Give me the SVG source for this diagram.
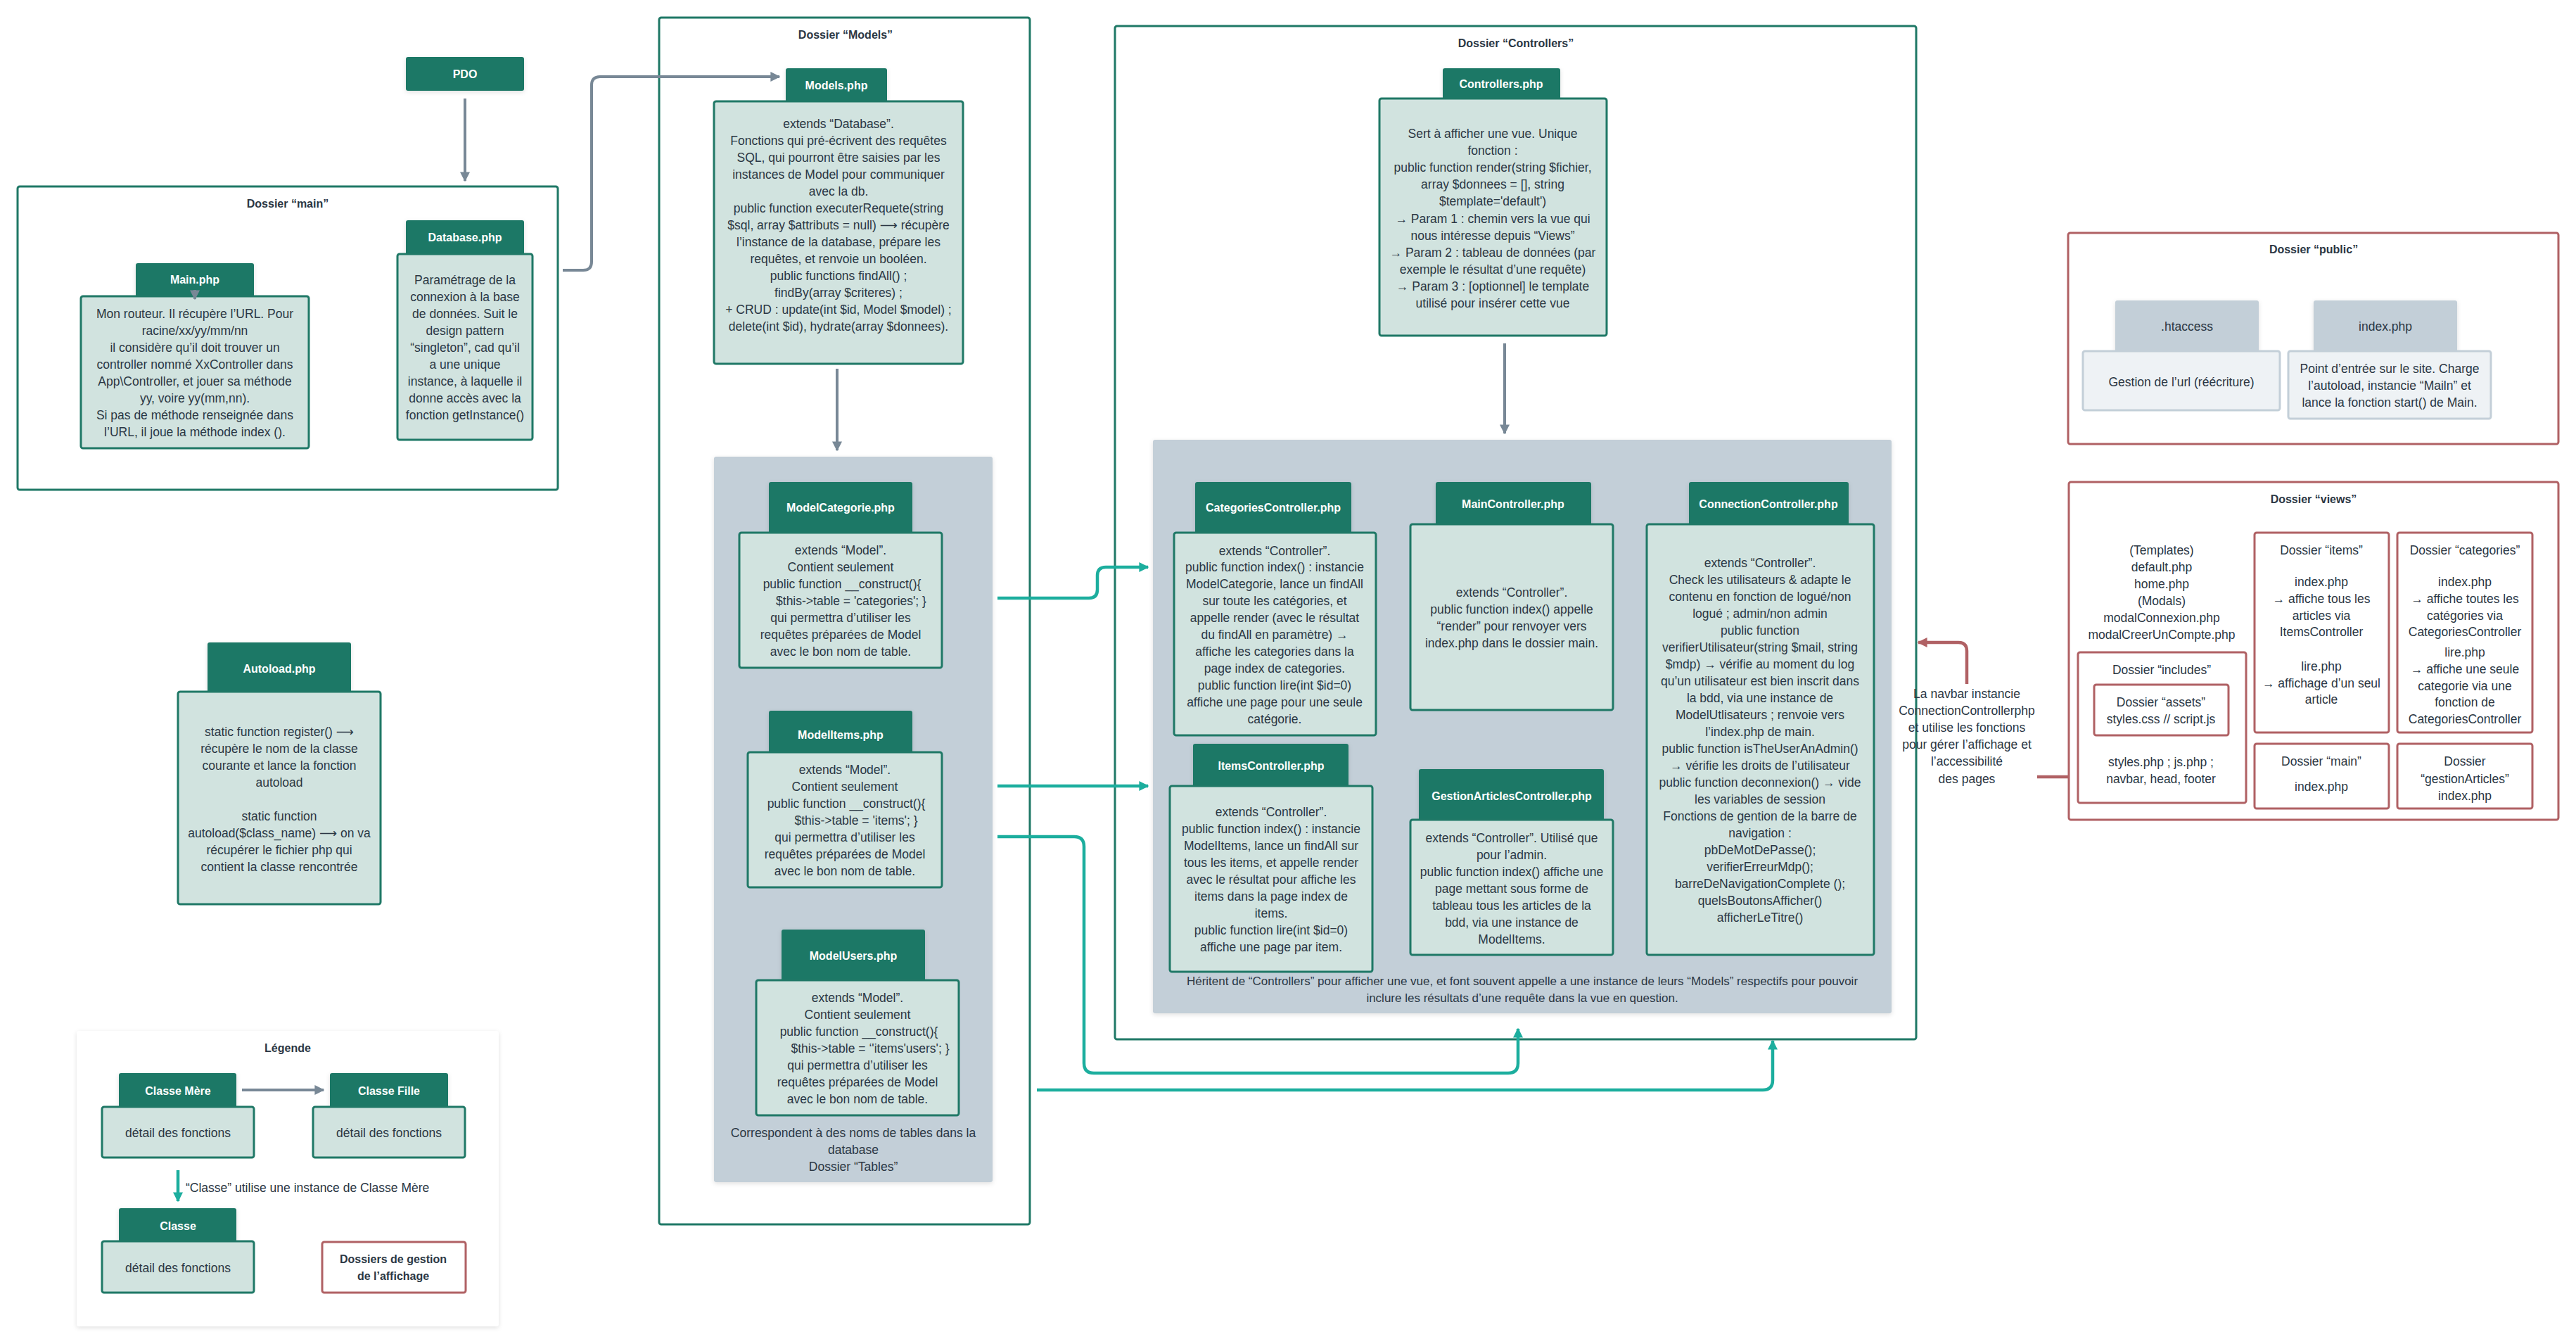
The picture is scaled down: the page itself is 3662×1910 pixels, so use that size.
<svg xmlns="http://www.w3.org/2000/svg" width="3662" height="1910" viewBox="0 0 3662 1910">
<defs>
<style>
.hd{fill:#1f7866}
.bd{fill:#d1e3df;stroke:#1f7866;stroke-width:3}
.ghd{fill:#c3cfd8}
.gbd{fill:#eef2f5;stroke:#c3cfd8;stroke-width:3}
.ht{font-family:"Liberation Sans","DejaVu Sans",sans-serif;font-weight:bold;font-size:16px;fill:#ffffff;text-anchor:middle}
.tx{font-family:"Liberation Sans","DejaVu Sans",sans-serif;font-size:17.5px;fill:#2b3744;text-anchor:middle}
.ti{font-family:"Liberation Sans","DejaVu Sans",sans-serif;font-weight:bold;font-size:16px;fill:#2b3744;text-anchor:middle}
.fold{fill:#ffffff;stroke:#1f7866;stroke-width:3}
.rfold{fill:#ffffff;stroke:#b06164;stroke-width:3}
.panel{fill:#c3cfd8}
.cg{fill:none;stroke:#788896;stroke-width:4}
.ct{fill:none;stroke:#1cae9e;stroke-width:4.5}
.cr{fill:none;stroke:#b06164;stroke-width:4.5}
</style>
<filter id="sh" x="-10%" y="-10%" width="120%" height="130%"><feDropShadow dx="0" dy="2" stdDeviation="3" flood-color="#000" flood-opacity="0.12"/></filter>
<marker id="ag" viewBox="0 0 10 10" refX="9" refY="5" markerWidth="14" markerHeight="14" markerUnits="userSpaceOnUse" orient="auto"><path d="M0,0 L10,5 L0,10 z" fill="#788896"/></marker>
<marker id="at" viewBox="0 0 10 10" refX="9" refY="5" markerWidth="14" markerHeight="14" markerUnits="userSpaceOnUse" orient="auto"><path d="M0,0 L10,5 L0,10 z" fill="#1cae9e"/></marker>
<marker id="ar" viewBox="0 0 10 10" refX="9" refY="5" markerWidth="14" markerHeight="14" markerUnits="userSpaceOnUse" orient="auto"><path d="M0,0 L10,5 L0,10 z" fill="#b06164"/></marker>
</defs>
<rect width="3662" height="1910" fill="#ffffff"/>

<!-- folders -->
<g id="folder-main"><rect class="fold" x="25" y="265" width="768" height="431" rx="3"/><text class="ti" x="409" y="295">Dossier “main”</text></g>
<g id="folder-models"><rect class="fold" x="937" y="25" width="527" height="1715" rx="3"/><text class="ti" x="1202" y="55">Dossier “Models”</text></g>
<g id="folder-controllers"><rect class="fold" x="1585" y="37" width="1139" height="1440" rx="3"/><text class="ti" x="2155" y="67">Dossier “Controllers”</text></g>
<g id="folder-public"><rect class="rfold" x="2940" y="331" width="697" height="300" rx="3"/><text class="ti" x="3289" y="360">Dossier “public”</text></g>
<g id="folder-views"><rect class="rfold" x="2941" y="685" width="696" height="480" rx="3"/><text class="ti" x="3289" y="715">Dossier “views”</text></g>

<!-- panels -->
<g id="panel-tables"><rect class="panel" x="1015" y="649" width="396" height="1031" rx="3" filter="url(#sh)"/>
<text class="tx"><tspan x="1213" y="1616">Correspondent à des noms de tables dans la</tspan><tspan x="1213" y="1640">database</tspan><tspan x="1213" y="1664">Dossier “Tables”</tspan></text></g>
<g id="panel-controllers"><rect class="panel" x="1639" y="625" width="1050" height="815" rx="3" filter="url(#sh)"/>
<text class="tx" style="font-size:17px"><tspan x="2164" y="1400">Héritent de “Controllers” pour afficher une vue, et font souvent appelle a une instance de leurs “Models” respectifs pour pouvoir</tspan><tspan x="2164" y="1424">inclure les résultats d’une requête dans la vue en question.</tspan></text></g>

<!-- nodes -->
<g id="pdo"><rect class="hd" x="577" y="81" width="168" height="48" rx="3" filter="url(#sh)"/><text class="ht" x="661" y="111">PDO</text></g>

<g id="database"><rect class="hd" x="577" y="313" width="168" height="50" rx="3" filter="url(#sh)"/><text class="ht" x="661" y="343">Database.php</text>
<rect class="bd" x="565" y="361" width="192" height="264" rx="3"/>
<text class="tx"><tspan x="661" y="404">Paramétrage de la</tspan><tspan x="661" y="428">connexion à la base</tspan><tspan x="661" y="452">de données. Suit le</tspan><tspan x="661" y="476">design pattern</tspan><tspan x="661" y="500">“singleton”, cad qu’il</tspan><tspan x="661" y="524">a une unique</tspan><tspan x="661" y="548">instance, à laquelle il</tspan><tspan x="661" y="572">donne accès avec la</tspan><tspan x="661" y="596">fonction getInstance()</tspan></text></g>

<g id="main"><rect class="hd" x="193" y="374" width="168" height="49" rx="3" filter="url(#sh)"/><text class="ht" x="277" y="403">Main.php</text>
<rect class="bd" x="115" y="421" width="324" height="216" rx="3"/>
<text class="tx"><tspan x="277" y="452">Mon routeur. Il récupère l’URL. Pour</tspan><tspan x="277" y="476">racine/xx/yy/mm/nn</tspan><tspan x="277" y="500">il considère qu’il doit trouver un</tspan><tspan x="277" y="524">controller nommé XxController dans</tspan><tspan x="277" y="548">App\Controller, et jouer sa méthode</tspan><tspan x="277" y="572">yy, voire yy(mm,nn).</tspan><tspan x="277" y="596">Si pas de méthode renseignée dans</tspan><tspan x="277" y="620">l’URL, il joue la méthode index ().</tspan></text></g>

<g id="autoload"><rect class="hd" x="295" y="913" width="204" height="72" rx="3" filter="url(#sh)"/><text class="ht" x="397" y="956">Autoload.php</text>
<rect class="bd" x="253" y="983" width="288" height="302" rx="3"/>
<text class="tx"><tspan x="397" y="1046">static function register() ⟶</tspan><tspan x="397" y="1070">récupère le nom de la classe</tspan><tspan x="397" y="1094">courante et lance la fonction</tspan><tspan x="397" y="1118">autoload</tspan><tspan x="397" y="1166">static function</tspan><tspan x="397" y="1190">autoload($class_name) ⟶ on va</tspan><tspan x="397" y="1214">récupérer le fichier php qui</tspan><tspan x="397" y="1238">contient la classe rencontrée</tspan></text></g>

<g id="models"><rect class="hd" x="1117" y="97" width="144" height="49" rx="3" filter="url(#sh)"/><text class="ht" x="1189" y="127">Models.php</text>
<rect class="bd" x="1015" y="144" width="354" height="373" rx="3"/>
<text class="tx"><tspan x="1192" y="182">extends “Database”.</tspan><tspan x="1192" y="206">Fonctions qui pré-écrivent des requêtes</tspan><tspan x="1192" y="230">SQL, qui pourront être saisies par les</tspan><tspan x="1192" y="254">instances de Model pour communiquer</tspan><tspan x="1192" y="278">avec la db.</tspan><tspan x="1192" y="302">public function executerRequete(string</tspan><tspan x="1192" y="326">$sql, array $attributs = null) ⟶ récupère</tspan><tspan x="1192" y="350">l’instance de la database, prépare les</tspan><tspan x="1192" y="374">requêtes, et renvoie un booléen.</tspan><tspan x="1192" y="398">public functions findAll() ;</tspan><tspan x="1192" y="422">findBy(array $criteres) ;</tspan><tspan x="1192" y="446">+ CRUD : update(int $id, Model $model) ;</tspan><tspan x="1192" y="470">delete(int $id), hydrate(array $donnees).</tspan></text></g>

<g id="model-categorie"><rect class="hd" x="1093" y="685" width="204" height="74" rx="3" filter="url(#sh)"/><text class="ht" x="1195" y="727">ModelCategorie.php</text>
<rect class="bd" x="1051" y="757" width="288" height="192" rx="3"/>
<text class="tx"><tspan x="1195" y="788">extends “Model”.</tspan><tspan x="1195" y="812">Contient seulement</tspan><tspan x="1197" y="836">public function __construct(){</tspan><tspan x="1210" y="860">$this-&gt;table = 'categories';   }</tspan><tspan x="1195" y="884">qui permettra d’utiliser les</tspan><tspan x="1195" y="908">requêtes préparées de Model</tspan><tspan x="1195" y="932">avec le bon nom de table.</tspan></text></g>

<g id="model-items"><rect class="hd" x="1093" y="1010" width="204" height="61" rx="3" filter="url(#sh)"/><text class="ht" x="1195" y="1050">ModelItems.php</text>
<rect class="bd" x="1063" y="1069" width="276" height="192" rx="3"/>
<text class="tx"><tspan x="1201" y="1100">extends “Model”.</tspan><tspan x="1201" y="1124">Contient seulement</tspan><tspan x="1203" y="1148">public function __construct(){</tspan><tspan x="1217" y="1172">$this-&gt;table = 'items'; }</tspan><tspan x="1201" y="1196">qui permettra d’utiliser les</tspan><tspan x="1201" y="1220">requêtes préparées de Model</tspan><tspan x="1201" y="1244">avec le bon nom de table.</tspan></text></g>

<g id="model-users"><rect class="hd" x="1111" y="1321" width="204" height="74" rx="3" filter="url(#sh)"/><text class="ht" x="1213" y="1364">ModelUsers.php</text>
<rect class="bd" x="1075" y="1393" width="288" height="192" rx="3"/>
<text class="tx"><tspan x="1219" y="1424">extends “Model”.</tspan><tspan x="1219" y="1448">Contient seulement</tspan><tspan x="1221" y="1472">public function __construct(){</tspan><tspan x="1237" y="1496">$this-&gt;table = ‘'items'users'; }</tspan><tspan x="1219" y="1520">qui permettra d’utiliser les</tspan><tspan x="1219" y="1544">requêtes préparées de Model</tspan><tspan x="1219" y="1568">avec le bon nom de table.</tspan></text></g>

<g id="controllers"><rect class="hd" x="2051" y="97" width="167" height="45" rx="3" filter="url(#sh)"/><text class="ht" x="2134" y="125">Controllers.php</text>
<rect class="bd" x="1961" y="140" width="323" height="337" rx="3"/>
<text class="tx"><tspan x="2122" y="196">Sert à afficher une vue. Unique</tspan><tspan x="2122" y="220">fonction :</tspan><tspan x="2122" y="244">public function render(string $fichier,</tspan><tspan x="2122" y="268">array $donnees = [], string</tspan><tspan x="2122" y="292">$template='default')</tspan><tspan x="2122" y="317">→ Param 1 : chemin vers la vue qui</tspan><tspan x="2122" y="341">nous intéresse depuis “Views”</tspan><tspan x="2122" y="365">→ Param 2 : tableau de données (par</tspan><tspan x="2122" y="389">exemple le résultat d’une requête)</tspan><tspan x="2122" y="413">→ Param 3 : [optionnel] le template</tspan><tspan x="2122" y="437">utilisé pour insérer cette vue</tspan></text></g>

<g id="categories-controller"><rect class="hd" x="1699" y="685" width="222" height="73" rx="3" filter="url(#sh)"/><text class="ht" x="1810" y="727">CategoriesController.php</text>
<rect class="bd" x="1669" y="757" width="287" height="288" rx="3"/>
<text class="tx"><tspan x="1812" y="789">extends “Controller”.</tspan><tspan x="1812" y="812">public function index() : instancie</tspan><tspan x="1812" y="836">ModelCategorie, lance un findAll</tspan><tspan x="1812" y="860">sur toute les catégories, et</tspan><tspan x="1812" y="884">appelle render (avec le résultat</tspan><tspan x="1812" y="908">du findAll en paramètre) →</tspan><tspan x="1812" y="932">affiche les categories dans la</tspan><tspan x="1812" y="956">page index de categories.</tspan><tspan x="1812" y="980">public function lire(int $id=0)</tspan><tspan x="1812" y="1004">affiche une page pour une seule</tspan><tspan x="1812" y="1028">catégorie.</tspan></text></g>

<g id="main-controller"><rect class="hd" x="2041" y="685" width="221" height="62" rx="3" filter="url(#sh)"/><text class="ht" x="2151" y="722">MainController.php</text>
<rect class="bd" x="2005" y="745" width="288" height="264" rx="3"/>
<text class="tx"><tspan x="2149" y="848">extends “Controller”.</tspan><tspan x="2149" y="872">public function index() appelle</tspan><tspan x="2149" y="896">“render” pour renvoyer vers</tspan><tspan x="2149" y="920">index.php dans le dossier main.</tspan></text></g>

<g id="connection-controller"><rect class="hd" x="2401" y="685" width="227" height="62" rx="3" filter="url(#sh)"/><text class="ht" x="2514" y="722">ConnectionController.php</text>
<rect class="bd" x="2341" y="745" width="323" height="612" rx="3"/>
<text class="tx"><tspan x="2502" y="806">extends “Controller”.</tspan><tspan x="2502" y="830">Check les utilisateurs &amp; adapte le</tspan><tspan x="2502" y="854">contenu en fonction de logué/non</tspan><tspan x="2502" y="878">logué ; admin/non admin</tspan><tspan x="2502" y="902">public function</tspan><tspan x="2502" y="926">verifierUtilisateur(string $mail, string</tspan><tspan x="2502" y="950">$mdp) → vérifie au moment du log</tspan><tspan x="2502" y="974">qu’un utilisateur est bien inscrit dans</tspan><tspan x="2502" y="998">la bdd, via une instance de</tspan><tspan x="2502" y="1022">ModelUtlisateurs ; renvoie vers</tspan><tspan x="2502" y="1046">l’index.php de main.</tspan><tspan x="2502" y="1070">public function isTheUserAnAdmin()</tspan><tspan x="2502" y="1094">→ vérifie les droits de l’utilisateur</tspan><tspan x="2502" y="1118">public function deconnexion() → vide</tspan><tspan x="2502" y="1142">les variables de session</tspan><tspan x="2502" y="1166">Fonctions de gention de la barre de</tspan><tspan x="2502" y="1190">navigation :</tspan><tspan x="2502" y="1214">pbDeMotDePasse();</tspan><tspan x="2502" y="1238">verifierErreurMdp();</tspan><tspan x="2502" y="1262">barreDeNavigationComplete ();</tspan><tspan x="2502" y="1286">quelsBoutonsAfficher()</tspan><tspan x="2502" y="1310">afficherLeTitre()</tspan></text></g>

<g id="items-controller"><rect class="hd" x="1696" y="1057" width="221" height="62" rx="3" filter="url(#sh)"/><text class="ht" x="1807" y="1094">ItemsController.php</text>
<rect class="bd" x="1663" y="1117" width="288" height="264" rx="3"/>
<text class="tx"><tspan x="1807" y="1160">extends “Controller”.</tspan><tspan x="1807" y="1184">public function index() : instancie</tspan><tspan x="1807" y="1208">ModelItems, lance un findAll sur</tspan><tspan x="1807" y="1232">tous les items, et appelle render</tspan><tspan x="1807" y="1256">avec le résultat pour affiche les</tspan><tspan x="1807" y="1280">items dans la page index de</tspan><tspan x="1807" y="1304">items.</tspan><tspan x="1807" y="1328">public function lire(int $id=0)</tspan><tspan x="1807" y="1352">affiche une page par item.</tspan></text></g>

<g id="gestion-articles-controller"><rect class="hd" x="2017" y="1093" width="263" height="74" rx="3" filter="url(#sh)"/><text class="ht" x="2149" y="1137">GestionArticlesController.php</text>
<rect class="bd" x="2005" y="1165" width="288" height="192" rx="3"/>
<text class="tx"><tspan x="2149" y="1197">extends “Controller”. Utilisé que</tspan><tspan x="2149" y="1221">pour l’admin.</tspan><tspan x="2149" y="1245">public function index() affiche une</tspan><tspan x="2149" y="1269">page mettant sous forme de</tspan><tspan x="2149" y="1293">tableau tous les articles de la</tspan><tspan x="2149" y="1317">bdd, via une instance de</tspan><tspan x="2149" y="1341">ModelItems.</tspan></text></g>

<g id="htaccess"><rect class="ghd" x="3007" y="427" width="204" height="74" rx="3" filter="url(#sh)"/><text class="tx" x="3109" y="470">.htaccess</text>
<rect class="gbd" x="2961" y="499" width="280" height="84" rx="3"/><text class="tx" x="3101" y="549">Gestion de l’url (réécriture)</text></g>

<g id="public-index"><rect class="ghd" x="3289" y="427" width="204" height="74" rx="3" filter="url(#sh)"/><text class="tx" x="3391" y="470">index.php</text>
<rect class="gbd" x="3253" y="499" width="288" height="96" rx="3"/>
<text class="tx"><tspan x="3397" y="530">Point d’entrée sur le site. Charge</tspan><tspan x="3397" y="554">l’autoload, instancie “Mailn” et</tspan><tspan x="3397" y="578">lance la fonction start() de Main.</tspan></text></g>

<g id="templates"><text class="tx"><tspan x="3073" y="788">(Templates)</tspan><tspan x="3073" y="812">default.php</tspan><tspan x="3073" y="836">home.php</tspan><tspan x="3073" y="860">(Modals)</tspan><tspan x="3073" y="884">modalConnexion.php</tspan><tspan x="3073" y="908">modalCreerUnCompte.php</tspan></text></g>

<g id="views-items"><rect class="rfold" x="3205" y="757" width="191" height="284" rx="3"/>
<text class="tx"><tspan x="3300" y="788">Dossier “items”</tspan><tspan x="3300" y="833">index.php</tspan><tspan x="3300" y="857">→ affiche tous les</tspan><tspan x="3300" y="881">articles via</tspan><tspan x="3300" y="904">ItemsController</tspan><tspan x="3300" y="953">lire.php</tspan><tspan x="3300" y="977">→ affichage d’un seul</tspan><tspan x="3300" y="1000">article</tspan></text></g>

<g id="views-categories"><rect class="rfold" x="3408" y="757" width="192" height="284" rx="3"/>
<text class="tx"><tspan x="3504" y="788">Dossier “categories”</tspan><tspan x="3504" y="833">index.php</tspan><tspan x="3504" y="857">→ affiche toutes les</tspan><tspan x="3504" y="881">catégories via</tspan><tspan x="3504" y="904">CategoriesController</tspan><tspan x="3504" y="933">lire.php</tspan><tspan x="3504" y="957">→ affiche une seule</tspan><tspan x="3504" y="981">categorie via une</tspan><tspan x="3504" y="1004">fonction de</tspan><tspan x="3504" y="1028">CategoriesController</tspan></text></g>

<g id="views-includes"><rect class="rfold" x="2954" y="927" width="239" height="214" rx="3"/>
<text class="tx" x="3073" y="958">Dossier “includes”</text>
<text class="tx"><tspan x="3072" y="1089">styles.php ; js.php ;</tspan><tspan x="3072" y="1113">navbar, head, footer</tspan></text></g>

<g id="views-assets"><rect class="rfold" x="2977" y="973" width="191" height="72" rx="3"/>
<text class="tx"><tspan x="3072" y="1004">Dossier “assets”</tspan><tspan x="3072" y="1028">styles.css // script.js</tspan></text></g>

<g id="views-main"><rect class="rfold" x="3205" y="1057" width="191" height="92" rx="3"/>
<text class="tx"><tspan x="3300" y="1088">Dossier “main”</tspan><tspan x="3300" y="1124">index.php</tspan></text></g>

<g id="views-gestion"><rect class="rfold" x="3408" y="1057" width="192" height="92" rx="3"/>
<text class="tx"><tspan x="3504" y="1088">Dossier</tspan><tspan x="3504" y="1113">“gestionArticles”</tspan><tspan x="3504" y="1137">index.php</tspan></text></g>

<!-- legend -->
<g id="legend"><rect x="109" y="1465" width="600" height="420" rx="4" fill="#ffffff" filter="url(#sh)"/>
<text class="ti" x="409" y="1495">Légende</text></g>
<g id="legend-mere"><rect class="hd" x="169" y="1525" width="167" height="50" rx="3" filter="url(#sh)"/><text class="ht" x="253" y="1556">Classe Mère</text>
<rect class="bd" x="145" y="1573" width="216" height="72" rx="3"/><text class="tx" x="253" y="1616">détail des fonctions</text></g>
<g id="legend-fille"><rect class="hd" x="469" y="1525" width="168" height="50" rx="3" filter="url(#sh)"/><text class="ht" x="553" y="1556">Classe Fille</text>
<rect class="bd" x="445" y="1573" width="216" height="72" rx="3"/><text class="tx" x="553" y="1616">détail des fonctions</text></g>
<g id="legend-classe"><rect class="hd" x="169" y="1717" width="167" height="49" rx="3" filter="url(#sh)"/><text class="ht" x="253" y="1748">Classe</text>
<rect class="bd" x="145" y="1764" width="216" height="73" rx="3"/><text class="tx" x="253" y="1808">détail des fonctions</text></g>
<g id="legend-affichage"><rect class="rfold" x="458" y="1765" width="204" height="72" rx="3"/>
<text class="ti"><tspan x="559" y="1795">Dossiers de gestion</tspan><tspan x="559" y="1819">de l’affichage</tspan></text></g>

<!-- connectors -->
<g id="connectors">
<path class="cg" d="M661,140 V257" marker-end="url(#ag)"/>
<path class="cg" d="M800,384 H829 Q841,384 841,372 V121 Q841,109 853,109 H1108" marker-end="url(#ag)"/>
<path class="cg" d="M277,412 V425" marker-end="url(#ag)"/>
<path class="cg" d="M1190,524 V640" marker-end="url(#ag)"/>
<path class="cg" d="M2139,488 V616" marker-end="url(#ag)"/>
<path class="ct" d="M1418,850 H1548 Q1560,850 1560,838 V818 Q1560,806 1572,806 H1632" marker-end="url(#at)"/>
<path class="ct" d="M1418,1117 H1632" marker-end="url(#at)"/>
<path class="ct" d="M1418,1189 H1527 Q1541,1189 1541,1203 V1511 Q1541,1525 1555,1525 H2144 Q2158,1525 2158,1511 V1462" marker-end="url(#at)"/>
<path class="ct" d="M1474,1549 H2506 Q2520,1549 2520,1535 V1479" marker-end="url(#at)"/>
<path class="cr" d="M2941,1104 H2896"/>
<path class="cr" d="M2796,972 V925 Q2796,913 2784,913 H2727" marker-end="url(#ar)"/>
<text class="tx"><tspan x="2796" y="992">La navbar instancie</tspan><tspan x="2796" y="1016">ConnectionControllerphp</tspan><tspan x="2796" y="1040">et utilise les fonctions</tspan><tspan x="2796" y="1064">pour gérer l’affichage et</tspan><tspan x="2796" y="1088">l’accessibilité</tspan><tspan x="2796" y="1113">des pages</tspan></text>
<path class="cg" d="M344,1549 H460" marker-end="url(#ag)"/>
<path class="ct" d="M253,1663 V1707" marker-end="url(#at)"/>
<text class="tx" style="text-anchor:start" x="264" y="1694">“Classe” utilise une instance de Classe Mère</text>
</g>
</svg>
